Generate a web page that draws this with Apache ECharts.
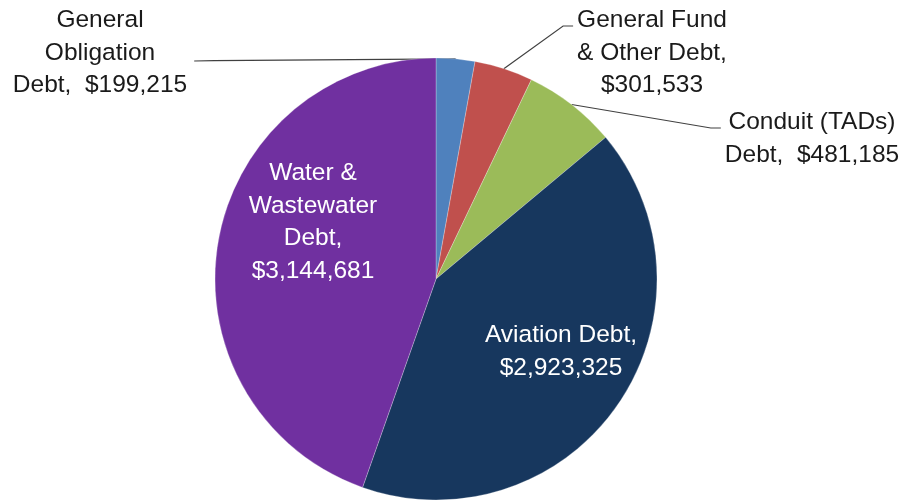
<!DOCTYPE html>
<html>
<head>
<meta charset="utf-8">
<script src="https://cdn.jsdelivr.net/npm/echarts@6/dist/echarts.min.js"></script>
<style>
html,body{margin:0;padding:0;background:#fff;}
#chart{width:904px;height:504px;}
</style>
</head>
<body>
<div id="chart"></div>
<script>
// Data
var categories = ['General Obligation Debt', 'General Fund & Other Debt', 'Conduit (TADs) Debt', 'Aviation Debt', 'Water & Wastewater Debt'];
var values = [199215, 301533, 481185, 2923325, 3144681];
// label text lines ({v} = formatted value)
var labelTexts = [
  'General\nObligation\nDebt,  {v}',
  'General Fund\n& Other Debt,\n{v}',
  'Conduit (TADs)\nDebt,  {v}',
  'Aviation Debt,\n{v}',
  'Water &\nWastewater\nDebt,\n{v}'
];
var colors = ['#4F81BD', '#C0504D', '#9BBB59', '#17375E', '#7030A0'];

// Layout (styling only): label block centre x, top y, and leader side
var labelPlace = [
  {x: 100, y: 4, side: 'left'},
  {x: 652, y: 4, side: 'right'},
  {x: 812, y: 106, side: 'right'},
  {x: 561, y: 319, side: 'none'},
  {x: 313, y: 157, side: 'none'}
];

function fmt(v) {
  return '$' + v.toString().replace(/\B(?=(\d{3})+(?!\d))/g, ',');
}

var data = categories.map(function (c, i) {
  var inside = labelPlace[i].side === 'none';
  return {
    name: c,
    value: values[i],
    itemStyle: {color: colors[i]},
    label: inside ? {position: 'inside', color: '#ffffff'} : {position: 'outside', color: '#1a1a1a'},
    labelLine: {show: !inside}
  };
});

var chart = echarts.init(document.getElementById('chart'), null, {renderer: 'canvas'});
chart.setOption({
  animation: false,
  backgroundColor: '#ffffff',
  series: [{
    type: 'pie',
    center: [436, 279],
    radius: 221,
    startAngle: 90,
    clockwise: true,
    avoidLabelOverlap: false,
    minShowLabelAngle: 0,
    data: data,
    itemStyle: {borderColor: 'rgba(255,255,255,0.5)', borderWidth: 0.5},
    label: {
      show: true,
      fontFamily: 'Liberation Sans',
      fontSize: 24.5,
      lineHeight: 32.5,
      align: 'center',
      formatter: function (p) {
        return labelTexts[p.dataIndex].replace('{v}', fmt(p.value));
      }
    },
    labelLine: {
      show: true,
      length: 10,
      length2: 10,
      smooth: false,
      lineStyle: {color: '#404040', width: 1.2}
    },
    labelLayout: function (p) {
      var pl = labelPlace[p.dataIndex];
      var res = {x: pl.x, y: pl.y, align: 'center', verticalAlign: 'top'};
      var w = p.labelRect.width;
      var start = p.labelLinePoints ? p.labelLinePoints[0] : null;
      if (start && pl.side === 'right') {
        var ex = pl.x - w / 2 - 4;
        var ey = pl.y + 22;
        res.labelLinePoints = [start, [ex - 10, ey], [ex, ey]];
      } else if (start && pl.side === 'left') {
        var rx = pl.x + w / 2 + 7;
        var ry = pl.y + 57;
        res.labelLinePoints = [start, [rx + 20, ry - 0.3], [rx, ry]];
      }
      return res;
    }
  }]
});
</script>
</body>
</html>
